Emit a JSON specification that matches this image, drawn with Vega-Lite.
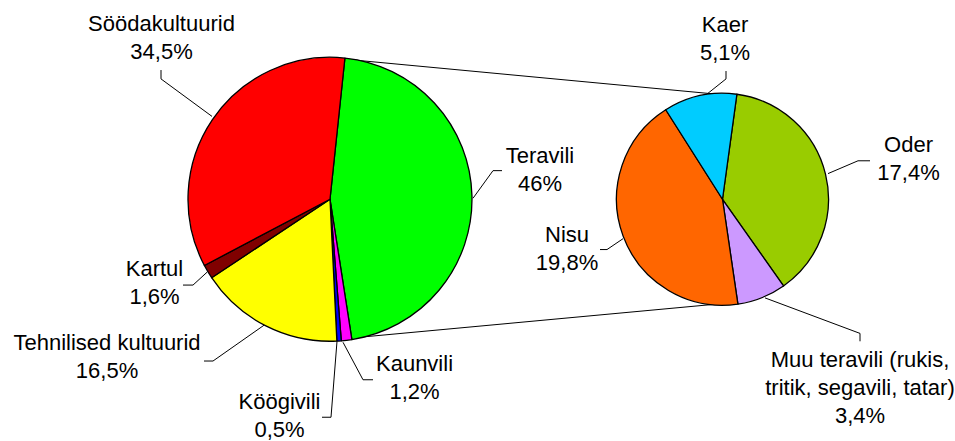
{
  "$schema": "https://vega.github.io/schema/vega-lite/v6.json",
  "width": 955,
  "height": 441,
  "padding": 0,
  "autosize": {"type": "fit", "contains": "padding"},
  "background": "white",
  "config": {"view": {"stroke": null}},
  "datasets": {
    "left": [
      {"name": "Teravili", "share": 46, "o": 1},
      {"name": "Kaunvili", "share": 1.2, "o": 2},
      {"name": "Köögivili", "share": 0.5, "o": 3},
      {"name": "Tehnilised kultuurid", "share": 16.5, "o": 4},
      {"name": "Kartul", "share": 1.6, "o": 5},
      {"name": "Söödakultuurid", "share": 34.5, "o": 6}
    ],
    "right": [
      {"name": "Oder", "share": 17.4, "o": 1},
      {"name": "Muu teravili", "share": 3.4, "o": 2},
      {"name": "Nisu", "share": 19.8, "o": 3},
      {"name": "Kaer", "share": 5.1, "o": 4}
    ],
    "lines": [
      {"id": "c1", "o": 1, "x": 345, "y": 60},
      {"id": "c1", "o": 2, "x": 722, "y": 96},
      {"id": "c2", "o": 1, "x": 348, "y": 343},
      {"id": "c2", "o": 2, "x": 720, "y": 308},
      {"id": "sood", "o": 1, "x": 161, "y": 71},
      {"id": "sood", "o": 2, "x": 161, "y": 80},
      {"id": "sood", "o": 3, "x": 212, "y": 118},
      {"id": "kart", "o": 1, "x": 183, "y": 289},
      {"id": "kart", "o": 2, "x": 193, "y": 289},
      {"id": "kart", "o": 3, "x": 207, "y": 276},
      {"id": "tehn", "o": 1, "x": 204, "y": 366},
      {"id": "tehn", "o": 2, "x": 213, "y": 366},
      {"id": "tehn", "o": 3, "x": 265, "y": 329},
      {"id": "koog", "o": 1, "x": 322, "y": 423},
      {"id": "koog", "o": 2, "x": 331, "y": 423},
      {"id": "koog", "o": 3, "x": 337, "y": 346},
      {"id": "kaun", "o": 1, "x": 373, "y": 385},
      {"id": "kaun", "o": 2, "x": 363, "y": 385},
      {"id": "kaun", "o": 3, "x": 343, "y": 347},
      {"id": "tera", "o": 1, "x": 502, "y": 173},
      {"id": "tera", "o": 2, "x": 493, "y": 173},
      {"id": "tera", "o": 3, "x": 473, "y": 201},
      {"id": "nisu", "o": 1, "x": 600, "y": 253},
      {"id": "nisu", "o": 2, "x": 607, "y": 253},
      {"id": "nisu", "o": 3, "x": 623, "y": 242},
      {"id": "kaer", "o": 1, "x": 726, "y": 72},
      {"id": "kaer", "o": 2, "x": 726, "y": 80},
      {"id": "kaer", "o": 3, "x": 705, "y": 97},
      {"id": "oder", "o": 1, "x": 870, "y": 163},
      {"id": "oder", "o": 2, "x": 858, "y": 163},
      {"id": "oder", "o": 3, "x": 828, "y": 176},
      {"id": "muu", "o": 1, "x": 860, "y": 346},
      {"id": "muu", "o": 2, "x": 860, "y": 338},
      {"id": "muu", "o": 3, "x": 765, "y": 302}
    ],
    "labels": [
      {"label": "Söödakultuurid\n34,5%", "x": 161.5, "y": 31},
      {"label": "Kartul\n1,6%", "x": 154.5, "y": 280},
      {"label": "Tehnilised kultuurid\n16,5%", "x": 107, "y": 355},
      {"label": "Köögivili\n0,5%", "x": 279.5, "y": 415},
      {"label": "Kaunvili\n1,2%", "x": 414.5, "y": 376},
      {"label": "Teravili\n46%", "x": 540, "y": 165},
      {"label": "Nisu\n19,8%", "x": 567, "y": 245},
      {"label": "Kaer\n5,1%", "x": 725, "y": 32},
      {"label": "Oder\n17,4%", "x": 908.5, "y": 154},
      {"label": "Muu teravili (rukis,\ntritik, segavili, tatar)\n3,4%", "x": 860, "y": 372}
    ]
  },
  "layer": [
    {
      "data": {"name": "lines"},
      "mark": {"type": "line", "color": "black", "strokeWidth": 1},
      "encoding": {
        "x": {"field": "x", "type": "quantitative", "scale": {"domain": [0, 955], "nice": false, "zero": false}, "axis": null},
        "y": {"field": "y", "type": "quantitative", "scale": {"domain": [441, 0], "nice": false, "zero": false}, "axis": null},
        "detail": {"field": "id", "type": "nominal"},
        "order": {"field": "o", "type": "quantitative"}
      }
    },
    {
      "data": {"name": "left"},
      "mark": {"type": "arc", "outerRadius": 142, "stroke": "black", "strokeWidth": 1.3, "strokeJoin": "round"},
      "encoding": {
        "x": {"datum": 330, "type": "quantitative"},
        "y": {"datum": 202, "type": "quantitative"},
        "theta": {"field": "share", "type": "quantitative", "stack": true, "scale": {"range": [0.1052, 6.3884]}},
        "order": {"field": "o", "type": "quantitative"},
        "color": {
          "field": "name", "type": "nominal", "legend": null,
          "scale": {
            "domain": ["Teravili", "Kaunvili", "Köögivili", "Tehnilised kultuurid", "Kartul", "Söödakultuurid", "Oder", "Muu teravili", "Nisu", "Kaer"],
            "range": ["#00FF00", "#FF00FF", "#0000FF", "#FFFF00", "#800000", "#FF0000", "#99CC00", "#CC99FF", "#FF6600", "#00CCFF"]
          }
        }
      }
    },
    {
      "data": {"name": "right"},
      "mark": {"type": "arc", "outerRadius": 106, "stroke": "black", "strokeWidth": 1.3, "strokeJoin": "round"},
      "encoding": {
        "x": {"datum": 722.5, "type": "quantitative"},
        "y": {"datum": 202, "type": "quantitative"},
        "theta": {"field": "share", "type": "quantitative", "stack": true, "scale": {"range": [0.1361, 6.4193]}},
        "order": {"field": "o", "type": "quantitative"},
        "color": {"field": "name", "type": "nominal", "legend": null}
      }
    },
    {
      "data": {"name": "labels"},
      "mark": {"type": "text", "font": "Liberation Sans", "fontSize": 22, "lineBreak": "\n", "lineHeight": 28, "align": "center", "baseline": "alphabetic", "color": "black"},
      "encoding": {
        "x": {"field": "x", "type": "quantitative"},
        "y": {"field": "y", "type": "quantitative"},
        "text": {"field": "label", "type": "nominal"}
      }
    }
  ],
  "resolve": {"scale": {"theta": "independent"}}
}
